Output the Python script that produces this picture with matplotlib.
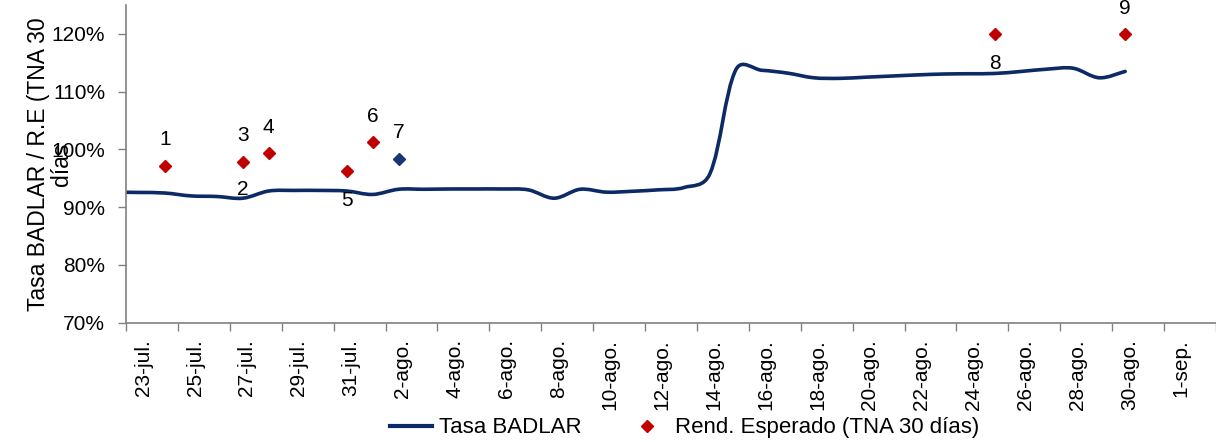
import numpy as np
import matplotlib
matplotlib.use("Agg")
import matplotlib.pyplot as plt
import matplotlib.transforms as mtransforms
from matplotlib.path import Path
from matplotlib.patches import PathPatch
from matplotlib.lines import Line2D
import matplotlib.ticker as mticker

plt.rcParams["font.family"] = ["Liberation Sans", "DejaVu Sans"]

# day index 0 = 23-jul, 40 = 1-sep
DATE_LABELS = ["23-jul.", "25-jul.", "27-jul.", "29-jul.", "31-jul.", "2-ago.", "4-ago.",
               "6-ago.", "8-ago.", "10-ago.", "12-ago.", "14-ago.", "16-ago.", "18-ago.",
               "20-ago.", "22-ago.", "24-ago.", "26-ago.", "28-ago.", "30-ago.", "1-sep."]
LABEL_DAYS = list(range(0, 41, 2))

# Tasa BADLAR (daily, from 22-jul to 30-ago)
badlar_days = list(range(-1, 39))
badlar_vals = [92.6, 92.55, 92.45, 91.95, 91.85, 91.55, 92.8, 92.9, 92.9, 92.8,
               92.2, 93.1, 93.1, 93.15, 93.15, 93.15, 93.0, 91.55, 93.1, 92.6,
               92.75, 93.0, 93.4, 95.8, 113.8, 113.7, 113.2, 112.4, 112.3, 112.5,
               112.7, 112.9, 113.05, 113.1, 113.15, 113.5, 113.9, 114.05, 112.4, 113.5]

# Rend. Esperado (TNA 30 dias)
re_days = [1, 4, 5, 8, 9, 10, 33, 38]
re_vals = [97.1, 97.9, 99.3, 96.25, 101.2, 98.3, 120.0, 119.9]
re_is_blue = [False, False, False, False, False, True, False, False]

# numbered callouts: label, day, value
call_labels = ["1", "2", "3", "4", "5", "6", "7", "8", "9"]
call_days = [1, 4, 4, 5, 8, 9, 10, 33, 38]
call_vals = [97.1, 91.55, 97.9, 99.3, 96.25, 101.2, 98.3, 120.0, 119.9]
call_below = [False, False, False, False, True, False, False, True, False]

NAVY = "#0b2a66"
RED = "#c00000"
BLUE_PT = "#17367a"
GRAY = "#808080"


def smooth_path(ax, xs, ys):
    # Excel-like smoothed line: Bezier segments whose control arms are
    # weighted by the on-screen length of the neighbouring segments
    to_disp = ax.transData
    pts = to_disp.transform(np.column_stack([xs, ys]).astype(float))
    n = len(pts)
    c_in = pts.copy()
    c_out = pts.copy()
    for i in range(n):
        p_prev = pts[max(i - 1, 0)]
        p_next = pts[min(i + 1, n - 1)]
        tang = p_next - p_prev
        d0 = np.hypot(*(pts[i] - p_prev))
        d1 = np.hypot(*(p_next - pts[i]))
        if d0 + d1 == 0:
            continue
        w0 = 0.5 * (d0 / (d0 + d1)) + 0.25
        w1 = 0.5 * (d1 / (d0 + d1)) + 0.25
        c_in[i] = pts[i] - tang * w0 / 3.0
        c_out[i] = pts[i] + tang * w1 / 3.0
    verts = [pts[0]]
    codes = [Path.MOVETO]
    for i in range(n - 1):
        verts += [c_out[i], c_in[i + 1], pts[i + 1]]
        codes += [Path.CURVE4] * 3
    verts = to_disp.inverted().transform(np.array(verts))
    return Path(verts, codes)


fig = plt.figure(figsize=(12.16, 4.42), dpi=100)
ax = fig.add_axes([126 / 1216, (442 - 322.7) / 442, 1 - 126 / 1216, (322.7 - 5) / 442])
ax.set_xlim(-0.5, (1216 - 126) / 26.18 - 0.5)
ax.set_ylim(70, 125)

patch = PathPatch(smooth_path(ax, badlar_days, badlar_vals), facecolor="none",
                  edgecolor=NAVY, lw=2.6, capstyle="round", joinstyle="round", zorder=2)
ax.add_patch(patch)

for d, v, blue in zip(re_days, re_vals, re_is_blue):
    ax.plot(d, v, linestyle="none", marker="D", ms=5.8,
            color=BLUE_PT if blue else RED, zorder=3)

for lab, d, v, below in zip(call_labels, call_days, call_vals, call_below):
    if lab == "2":
        off = 6
    else:
        off = -21 if below else 19
    ax.annotate(lab, (d, v), xytext=(0, off), textcoords="offset points",
                ha="center", va="center", fontsize=15, color="black", zorder=4)

ax.yaxis.set_major_locator(mticker.FixedLocator([70, 80, 90, 100, 110, 120]))
ax.yaxis.set_major_formatter(mticker.FuncFormatter(lambda v, p: f"{v:.0f}%"))
ax.set_xticks(LABEL_DAYS)
ax.set_xticklabels(DATE_LABELS, rotation=90)
ax.set_xticks(np.arange(-0.5, 42, 2), minor=True)

ax.tick_params(axis="x", which="major", length=0, pad=12, labelsize=15)
ax.tick_params(axis="x", which="minor", length=6, width=1, color=GRAY, direction="out")
ax.tick_params(axis="y", which="major", length=6, width=1, color=GRAY, pad=9, labelsize=15)

# nudge the date labels a little to the right, as in the source chart
shift = mtransforms.ScaledTranslation(3 / 72, 0, fig.dpi_scale_trans)
for lbl in ax.get_xticklabels():
    lbl.set_transform(lbl.get_transform() + shift)

for s in ("top", "right"):
    ax.spines[s].set_visible(False)
for s in ("left", "bottom"):
    ax.spines[s].set_color(GRAY)
    ax.spines[s].set_linewidth(1.2)

fig.text(50 / 1216, 1 - 163.9 / 442, "Tasa BADLAR / R.E (TNA 30\ndías",
         rotation=90, ha="center", va="center", multialignment="center",
         fontsize=16.5, linespacing=1.05)

handles = [Line2D([], [], color=NAVY, lw=3),
           Line2D([], [], color=RED, marker="D", ms=5.8, linestyle="none")]
fig.legend(handles, ["Tasa BADLAR", "Rend. Esperado (TNA 30 días)"],
           loc="center", bbox_to_anchor=(0.563, 0.032), ncol=2, frameon=False,
           fontsize=16, handlelength=1.9, handletextpad=0.3, columnspacing=2.0,
           borderpad=0, borderaxespad=0)

fig.savefig("out.png", dpi=100)
